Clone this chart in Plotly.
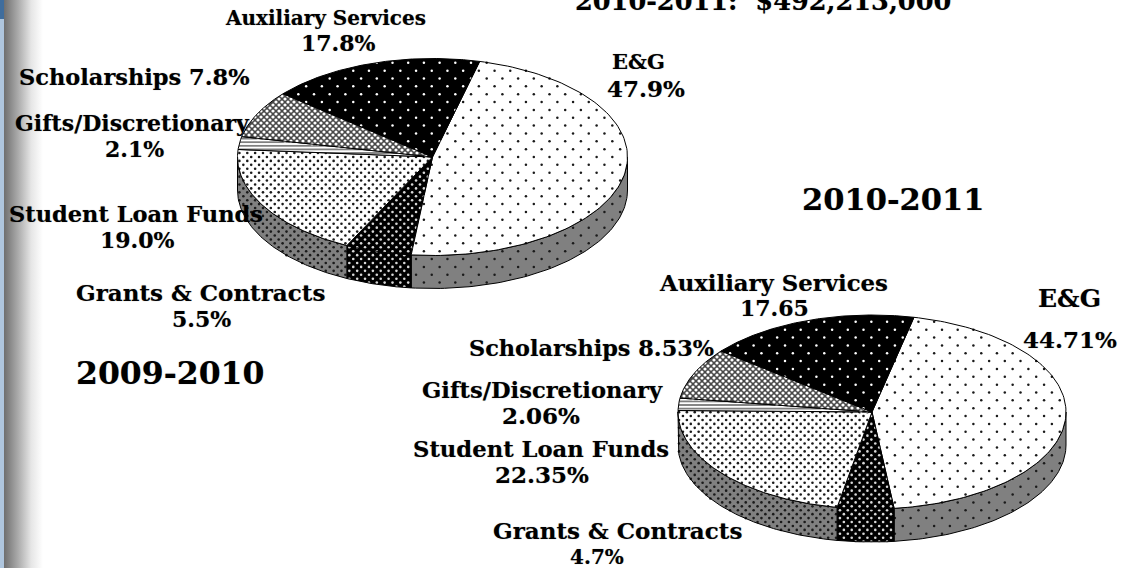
import numpy as np
import plotly.graph_objects as go

# Budget shares for each year, clockwise from the first slice
categories = ["E&G", "Grants & Contracts", "Student Loan Funds",
              "Gifts/Discretionary", "Scholarships", "Auxiliary Services"]
values_2009 = [47.9, 5.5, 19.0, 2.1, 7.8, 17.8]
values_2010 = [44.71, 4.7, 22.35, 2.06, 8.53, 17.65]

W, H = 1129, 568
DEPTH = 33
DISC_2009 = dict(cx=432.5, cy=157, rx=195, ry=98.5, start=14.0)
DISC_2010 = dict(cx=872, cy=412, rx=194, ry=97, start=12.5)

DARK = "#1a1a1a"
GRAY = "#808080"

# Dot lattices used as print-style shading: (background, dot colour, x step, dot size)
SPARSE_LIGHT = ("#ffffff", DARK, 15.7, 2.5)
SPARSE_GRAY = (GRAY, DARK, 15.7, 2.5)
SPARSE_DARK = ("#000000", "#ffffff", 15.7, 2.5)
DENSE_LIGHT = ("#ffffff", DARK, 7.85, 2.6)
DENSE_GRAY = (GRAY, DARK, 7.85, 2.6)
DENSE_DARK = ("#000000", "#d8d8d8", 7.85, 2.6)
CROSS = ("#484848", "#ffffff", 6.0, 3.2)
TOP_STYLE = [SPARSE_LIGHT, DENSE_DARK, DENSE_LIGHT, None, CROSS, SPARSE_DARK]
SIDE_STYLE = [SPARSE_GRAY, DENSE_DARK, DENSE_GRAY, None, None, None]

fig = go.Figure()


def inside(px, py, vx, vy):
    """Even-odd test of lattice points against a closed polygon."""
    vx, vy = np.asarray(vx), np.asarray(vy)
    x2, y2 = np.roll(vx, -1), np.roll(vy, -1)
    hit = np.zeros(px.shape, dtype=bool)
    for a, b, c, d in zip(vx, vy, x2, y2):
        if b == d:
            continue
        crosses = ((b > py) != (d > py)) & (px < (c - a) * (py - b) / (d - b) + a)
        hit ^= crosses
    return hit


def shaded(vx, vy, style, pattern=None):
    """Fill a polygon, scatter its dot lattice, then stroke the outline."""
    closed_x, closed_y = list(vx) + [vx[0]], list(vy) + [vy[0]]
    if style is not None:
        bg, fg, step, size = style
        fig.add_trace(go.Scatter(x=closed_x, y=closed_y, mode="lines", fill="toself",
                                 fillcolor=bg, line=dict(width=0), hoverinfo="skip"))
        rows = np.arange(np.floor(min(vy) / (step / 2)), np.ceil(max(vy) / (step / 2)) + 1)
        cols = np.arange(np.floor(min(vx) / step), np.ceil(max(vx) / step) + 1)
        gx, gy = np.meshgrid(cols, rows)
        px = (gx + 0.5 * (gy % 2)) * step
        py = gy * step / 2
        keep = inside(px, py, vx, vy)
        fig.add_trace(go.Scatter(x=px[keep], y=py[keep], mode="markers",
                                 marker=dict(size=size, color=fg, line=dict(width=0)),
                                 hoverinfo="skip"))
    else:
        fig.add_trace(go.Scatter(x=closed_x, y=closed_y, mode="lines", fill="toself",
                                 fillcolor="#ffffff", fillpattern=pattern,
                                 line=dict(width=0), hoverinfo="skip"))
    fig.add_trace(go.Scatter(x=closed_x, y=closed_y, mode="lines",
                             line=dict(color="#000000", width=1), hoverinfo="skip"))


def rim(d, a, dy=0.0):
    t = np.radians(a)
    return d["cx"] + d["rx"] * np.sin(t), d["cy"] - d["ry"] * np.cos(t) + dy


def draw_disc(d, values):
    total = sum(values)
    edges = d["start"] + np.cumsum([0] + list(values)) * 360.0 / total
    # Front wall first, so the top face sits over it
    for i in range(len(values)):
        lo, hi = max(edges[i], 90.0), min(edges[i + 1], 270.0)
        if hi <= lo:
            continue
        a = np.linspace(lo, hi, 80)
        tx, ty = rim(d, a)
        bx, by = rim(d, a[::-1], DEPTH)
        shaded(list(tx) + list(bx), list(ty) + list(by), SIDE_STYLE[i])
    for i in range(len(values)):
        a = np.linspace(edges[i], edges[i + 1], 120)
        rx_, ry_ = rim(d, a)
        vx = [d["cx"]] + list(rx_)
        vy = [d["cy"]] + list(ry_)
        pattern = dict(shape="-", size=3.6, solidity=0.5, fgcolor="#000000", bgcolor="#ffffff")
        shaded(vx, vy, TOP_STYLE[i], pattern)


# Page edge: pale blue strip, dark corner block and a soft gray fade into the page
fig.add_trace(go.Scatter(x=[4, 43, 43, 4, 4], y=[0, 0, H, H, 0], mode="lines", fill="toself",
                         fillgradient=dict(type="horizontal",
                                           colorscale=[[0, "#6f6f6f"], [0.35, "#a9a9a9"],
                                                       [0.7, "#e6e6e6"], [1, "#ffffff"]]),
                         line=dict(width=0), hoverinfo="skip"))
fig.add_trace(go.Scatter(x=[0, 4, 4, 0, 0], y=[0, 0, H, H, 0], mode="lines", fill="toself",
                         fillcolor="#afc6de", line=dict(width=0), hoverinfo="skip"))
fig.add_trace(go.Scatter(x=[0, 4, 4, 0, 0], y=[0, 0, 19, 19, 0], mode="lines", fill="toself",
                         fillcolor="#3f6d9d", line=dict(width=0), hoverinfo="skip"))

draw_disc(DISC_2009, values_2009)
draw_disc(DISC_2010, values_2010)

# (text, centre x, centre y, font size)
LABELS = [
    ("2010-2011:  $492,213,000", 763, 1, 25.6),
    ("Auxiliary Services", 325, 18, 20),
    ("17.8%", 338, 43, 22),
    ("Scholarships 7.8%", 134, 77, 22.5),
    ("Gifts/Discretionary", 132, 123, 22),
    ("2.1%", 134, 149, 22),
    ("Student Loan Funds", 136, 214, 22.5),
    ("19.0%", 137, 240, 22),
    ("Grants & Contracts", 200, 292, 23),
    ("5.5%", 201, 319, 22),
    ("E&G", 639, 61, 21),
    ("47.9%", 646, 88, 23),
    ("2009-2010", 170, 372, 31.5),
    ("2010-2011", 893, 199, 30.5),
    ("Auxiliary Services", 773, 283, 22.8),
    ("17.65", 774, 308, 22),
    ("E&G", 1069, 298, 25),
    ("44.71%", 1070, 339, 23),
    ("Scholarships 8.53%", 591, 348, 22.4),
    ("Gifts/Discretionary", 542, 390, 22.6),
    ("2.06%", 541, 415, 23),
    ("Student Loan Funds", 541, 449, 22.7),
    ("22.35%", 542, 474, 23),
    ("Grants & Contracts", 617, 530, 23),
    ("4.7%", 597, 557, 20),
]

annotations = [
    dict(text=t, x=x / W, y=1 - y / H, xref="paper", yref="paper",
         xanchor="center", yanchor="middle", showarrow=False,
         font=dict(family="DejaVu Serif", size=s, color="#000000", weight="bold",
                   shadow="0px 0px 1px rgba(0,0,0,0.4)"))
    for t, x, y, s in LABELS
]

fig.update_layout(
    width=W, height=H, margin=dict(l=0, r=0, t=0, b=0),
    paper_bgcolor="#ffffff", plot_bgcolor="#ffffff", showlegend=False,
    xaxis=dict(range=[0, W], visible=False, fixedrange=True),
    yaxis=dict(range=[H, 0], visible=False, fixedrange=True),
    annotations=annotations,
)

fig.write_html("out.html", config=dict(displayModeBar=False))
